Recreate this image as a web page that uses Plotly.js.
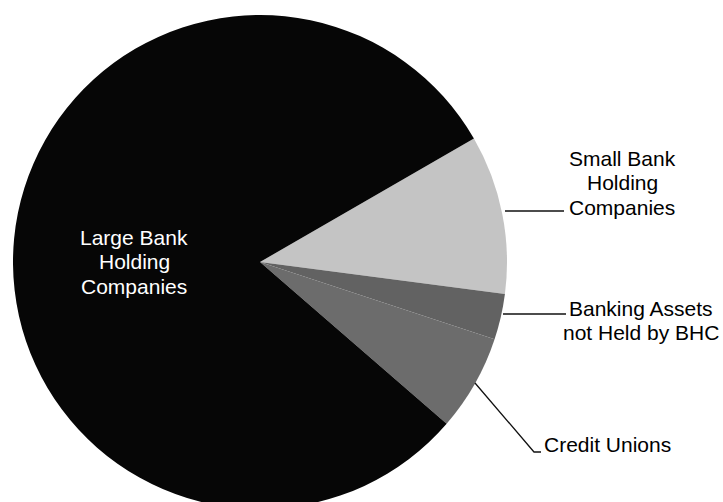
<!DOCTYPE html>
<html>
<head>
<meta charset="utf-8">
<script src="https://cdn.plot.ly/plotly-3.0.1.min.js"></script>
<style>
html,body{margin:0;padding:0;background:#fff;overflow:hidden;}
#chart{width:723px;height:512px;}
</style>
</head>
<body>
<div id="chart"></div>
<script>
// Data (percent of banking-system assets)
const categories = [
  "Small Bank Holding Companies",
  "Banking Assets not Held by BHC",
  "Credit Unions",
  "Large Bank Holding Companies"
];
const values = [10.4, 3.0, 6.3, 80.3];
const labelLines = [
  ["Small Bank", "Holding", "Companies"],
  ["Banking Assets", "not Held by BHC"],
  ["Credit Unions"],
  ["Large Bank", "Holding", "Companies"]
];
const colors = ["#c4c4c4", "#626262", "#6c6c6c", "#060606"];

const W = 723, H = 512;
const px = x => x / W;
const py = y => 1 - y / H;

// pie geometry (pixels): centre (260,262), radius 247
const cx = 260, cy = 262, r = 247;

const trace = {
  type: "pie",
  labels: categories,
  values: values,
  sort: false,
  direction: "clockwise",
  rotation: 60,
  textinfo: "none",
  hoverinfo: "none",
  marker: {colors: colors, line: {width: 0}},
  domain: {x: [px(cx - r), px(cx + r)], y: [py(cy + r), py(cy - r)]},
  showlegend: false
};

// label placement (pixels): [centre x, first line centre y, colour]
const labelPos = [
  [622, 158, "#000"],
  [641, 308, "#000"],
  [607, 444, "#000"],
  [134, 237, "#fff"]
];
const lineGap = 24.5;
const annotations = [];
labelLines.forEach((lines, i) => {
  const [x, y0, col] = labelPos[i];
  lines.forEach((t, j) => {
    annotations.push({
      xref: "paper", yref: "paper",
      x: px(x), y: py(y0 + j * lineGap),
      xanchor: "center", yanchor: "middle",
      text: t, showarrow: false,
      font: {family: "Liberation Sans, Arial, sans-serif", size: 21, color: col}
    });
  });
});

// leader lines (pixels)
const leaders = [
  [[505, 211], [564, 211]],
  [[503, 314], [566, 314]],
  [[475, 383], [534, 452], [541, 452]]
];
const shapes = leaders.map(pts => ({
  type: "path", xref: "paper", yref: "paper",
  path: pts.map((p, k) => (k ? "L" : "M") + px(p[0]) + "," + py(p[1])).join(" "),
  line: {color: "#111", width: 1.3}
}));

const layout = {
  width: W, height: H,
  margin: {l: 0, r: 0, t: 0, b: 0},
  paper_bgcolor: "#fff",
  plot_bgcolor: "#fff",
  annotations: annotations,
  shapes: shapes
};

Plotly.newPlot("chart", [trace], layout, {staticPlot: true, displayModeBar: false});
</script>
</body>
</html>
